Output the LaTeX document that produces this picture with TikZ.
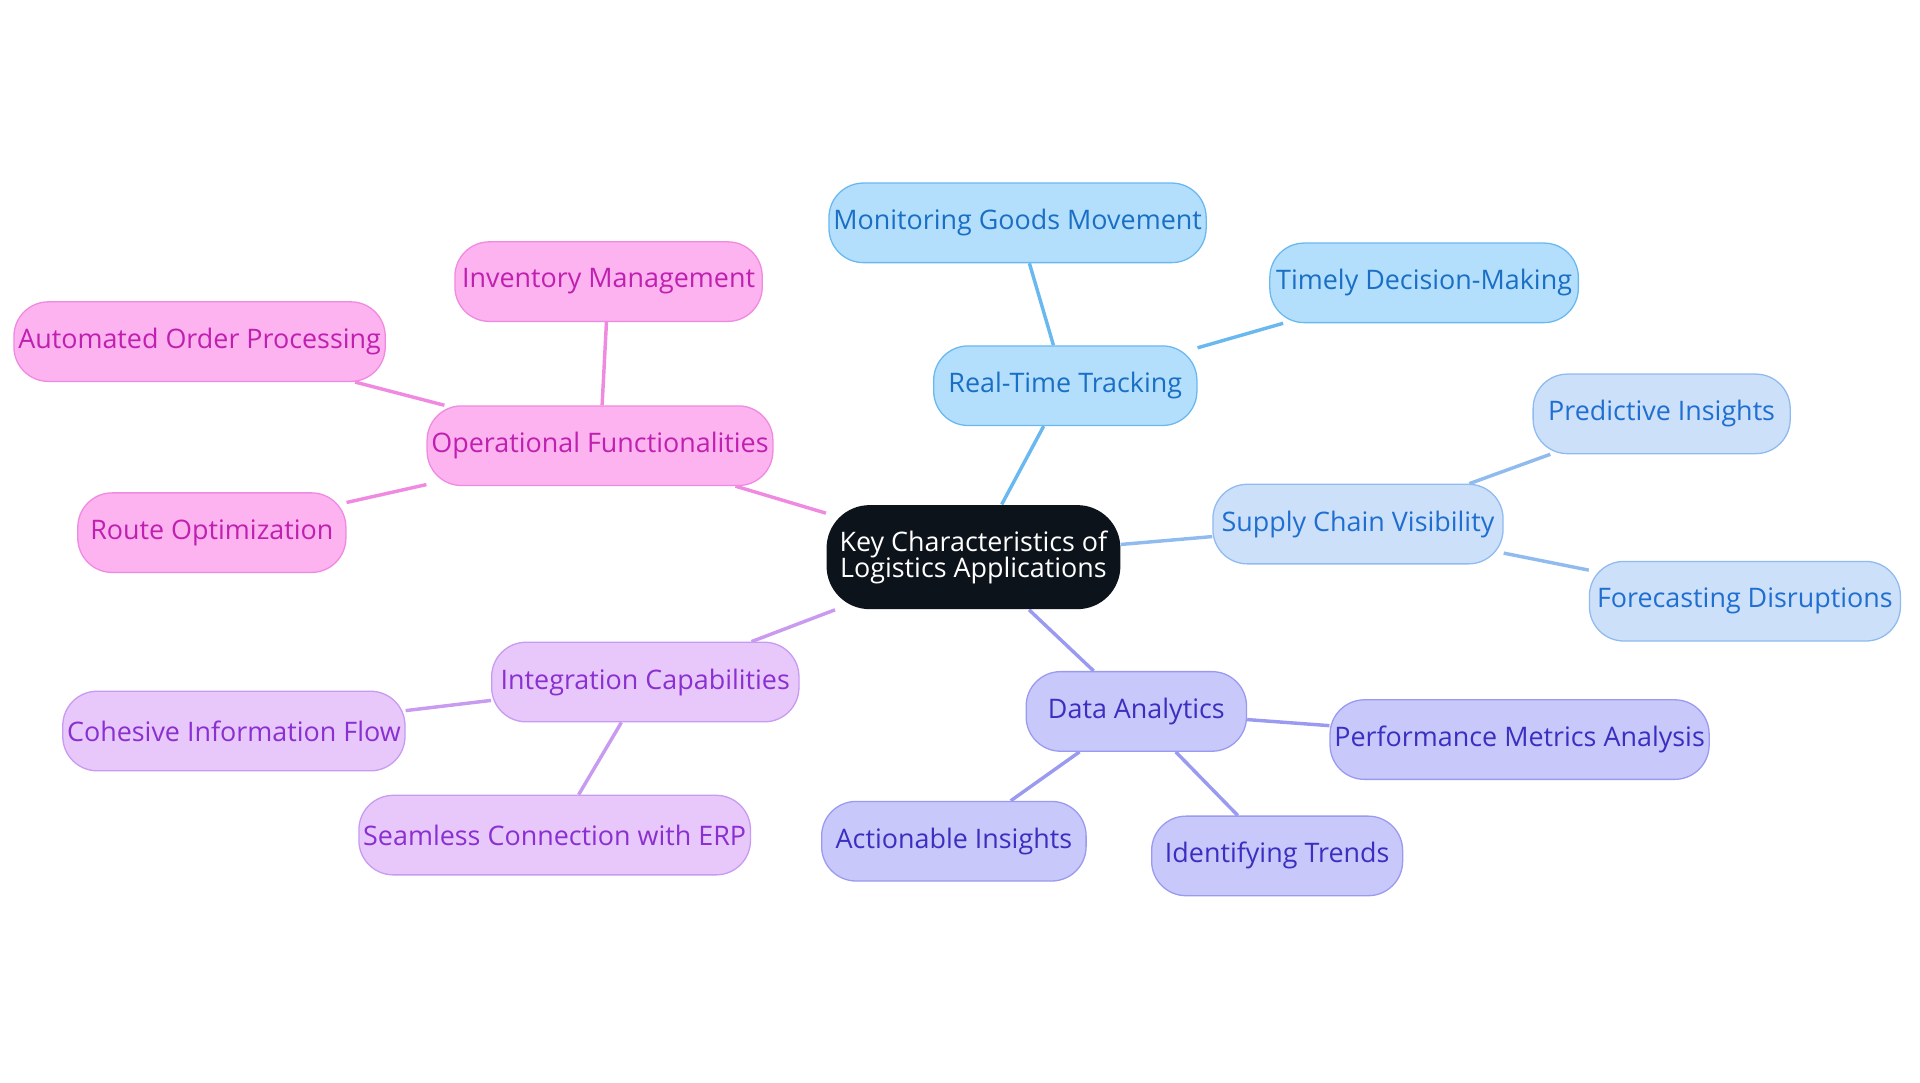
\documentclass[tikz,border=0pt]{standalone}
\usepackage{fontspec}
\setmainfont{Open Sans}
\usetikzlibrary{backgrounds}
\definecolor{hubfill}{HTML}{0D131B}
\definecolor{tfill}{HTML}{B3DFFC}\definecolor{tline}{HTML}{6AB8F0}\definecolor{ttext}{HTML}{1A6FC4}
\definecolor{sfill}{HTML}{CCE0FA}\definecolor{sline}{HTML}{90BBEF}\definecolor{stext}{HTML}{1F6FD0}
\definecolor{dfill}{HTML}{C8C8FB}\definecolor{dline}{HTML}{9A9AF0}\definecolor{dtext}{HTML}{3B2FC0}
\definecolor{ifill}{HTML}{E8C8FB}\definecolor{iline}{HTML}{C89AF0}\definecolor{itext}{HTML}{8A2FD0}
\definecolor{ofill}{HTML}{FCB3F0}\definecolor{oline}{HTML}{F08AE0}\definecolor{otext}{HTML}{C020B0}
\tikzset{
    topic/.style={rounded corners=16pt, minimum height=1.3cm, inner sep=2pt, font=\fontsize{12.5}{15}\selectfont, line width=0.6pt},
    track/.style={topic, fill=tfill, draw=tline, text=ttext},
    supply/.style={topic, fill=sfill, draw=sline, text=stext},
    data/.style={topic, fill=dfill, draw=dline, text=dtext},
    integ/.style={topic, fill=ifill, draw=iline, text=itext},
    oper/.style={topic, fill=ofill, draw=oline, text=otext},
    link/.style={line width=1.6pt}
}
\begin{document}
\begin{tikzpicture}[x=0.02cm, y=-0.02cm]
    \useasboundingbox (0,0) rectangle (1568,884);
    % hub
    \node[topic, fill=hubfill, text=white, minimum width=4.8cm, minimum height=1.7cm, rounded corners=20pt, align=center] (hub) at (795,455) {Key Characteristics of\\[-3pt]Logistics Applications};
    % tracking
    \node[track, minimum width=4.3cm] (rtt) at (870,315) {Real-Time Tracking};
    \node[track, minimum width=5.92cm] (mgm) at (831,182) {Monitoring Goods Movement};
    \node[track, minimum width=5.04cm] (tdm) at (1163,231) {Timely Decision-Making};
    % visibility
    \node[supply, minimum width=4.74cm] (scv) at (1109,428) {Supply Chain Visibility};
    \node[supply, minimum width=4.2cm] (pin) at (1357,338) {Predictive Insights};
    \node[supply, minimum width=5.08cm] (fdi) at (1425,491) {Forecasting Disruptions};
    % analytics
    \node[data, minimum width=3.6cm] (dan) at (928,581) {Data Analytics};
    \node[data, minimum width=6.06cm] (pma) at (1241,604) {Performance Metrics Analysis};
    \node[data, minimum width=4.32cm] (ain) at (779,687) {Actionable Insights};
    \node[data, minimum width=4.1cm] (itr) at (1043,699) {Identifying Trends};
    % integration
    \node[integ, minimum width=5.02cm] (ica) at (527,557) {Integration Capabilities};
    \node[integ, minimum width=5.5cm] (cif) at (191,597) {Cohesive Information Flow};
    \node[integ, minimum width=6.32cm] (sce) at (453,682) {Seamless Connection with ERP};
    % operations
    \node[oper, minimum width=5.6cm] (ofu) at (490,364) {Operational Functionalities};
    \node[oper, minimum width=5.02cm] (inm) at (497,230) {Inventory Management};
    \node[oper, minimum width=5.94cm] (aop) at (163,279) {Automated Order Processing};
    \node[oper, minimum width=4.38cm] (rop) at (173,435) {Route Optimization};

    \begin{scope}[on background layer]
        \draw[link, tline] (hub) -- (rtt) (rtt) -- (mgm) (rtt) -- (tdm);
        \draw[link, sline] (hub) -- (scv) (scv) -- (pin) (scv) -- (fdi);
        \draw[link, dline] (hub) -- (dan) (dan) -- (pma) (dan) -- (ain) (dan) -- (itr);
        \draw[link, iline] (hub) -- (ica) (ica) -- (cif) (ica) -- (sce);
        \draw[link, oline] (hub) -- (ofu) (ofu) -- (inm) (ofu) -- (aop) (ofu) -- (rop);
    \end{scope}
\end{tikzpicture}
\end{document}
